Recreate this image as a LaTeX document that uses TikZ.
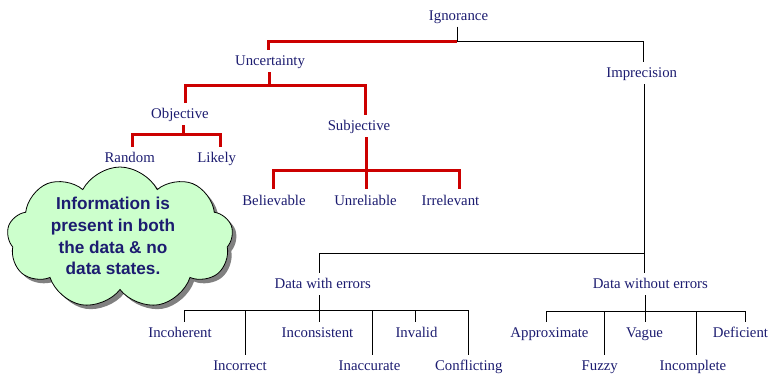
\documentclass[tikz,border=0pt]{standalone}
\usepackage{fontspec}
\setmainfont{Liberation Serif}
\newfontfamily\cloudfont{Liberation Sans}
\usetikzlibrary{shapes.symbols,shadows}
\definecolor{navytext}{RGB}{28,28,112}
\definecolor{linkred}{RGB}{204,0,0}
\definecolor{cloudgreen}{RGB}{204,255,204}
\begin{document}
\begin{tikzpicture}[x=1pt,y=-1pt,
  lbl/.style={text=navytext, font=\fontsize{14.8}{17}\selectfont,
    inner xsep=0pt, inner ysep=5.5pt, text height=10pt, text depth=1pt},
  redlink/.style={draw=linkred, line width=3pt},
  blklink/.style={draw=black, line width=1pt},
]
\useasboundingbox (0,0) rectangle (768,376);

% ---- labels ----
\node[lbl] (ign) at (458.5,15.5)  {Ignorance};
\node[lbl] (unc) at (270,61.2)    {Uncertainty};
\node[lbl] (imp) at (641.7,73.2)  {Imprecision};
\node[lbl] (obj) at (180,113.8)   {Objective};
\node[lbl] (sub) at (359,126.2)   {Subjective};
\node[lbl] (rnd) at (129.7,157.8) {Random};
\node[lbl] (lik) at (216.7,157.8) {Likely};
\node[lbl] (bel) at (274,200.5)   {Believable};
\node[lbl] (unr) at (365.5,200.5) {Unreliable};
\node[lbl] (irr) at (450.5,200.5) {Irrelevant};
\node[lbl] (dwe) at (322.7,283.8) {Data with errors};
\node[lbl] (dwo) at (650.3,283.8) {Data without errors};

\node[lbl] (ich) at (180,333.2)   {Incoherent};
\node[lbl] (icr) at (240,365.8)   {Incorrect};
\node[lbl] (ics) at (317.5,333.2) {Inconsistent};
\node[lbl] (iac) at (369.5,365.8) {Inaccurate};
\node[lbl] (inv) at (416.5,333.2) {Invalid};
\node[lbl] (cfl) at (468.8,365.8) {Conflicting};

\node[lbl] (apx) at (549.5,333.2) {Approximate};
\node[lbl] (fuz) at (599.7,365.8) {Fuzzy};
\node[lbl] (vag) at (644.5,333.2) {Vague};
\node[lbl] (icp) at (693,365.8)   {Incomplete};
\node[lbl] (dfc) at (740.5,333.2) {Deficient};

% ---- branch junctions ----
\coordinate (ignJ) at ([shift={(-1.5,14.5)}]ign.south);
\coordinate (uncJ) at ([shift={(-0.7,12.8)}]unc.south);
\coordinate (objJ) at ([shift={(3.3,9.2)}]obj.south);
\coordinate (subJ) at ([shift={(7,32.8)}]sub.south);
\coordinate (impJ) at ([shift={(2.3,169.1)}]imp.south);
\coordinate (dweJ) at ([shift={(-3.4,15.9)}]dwe.south);
\coordinate (dwoJ) at ([shift={(-5,16.9)}]dwo.south);

% ---- Ignorance ----
\draw[blklink] ([xshift=-1.5pt]ign.south) -- (ignJ) -| ([xshift=1.3pt]imp.north);
\draw[redlink] (ignJ) -| ([xshift=-1.7pt]unc.north);

% ---- Uncertainty ----
\draw[redlink] ([xshift=-0.7pt]unc.south) -- (uncJ);
\draw[redlink] (uncJ) -| ([xshift=5.3pt]obj.north);
\draw[redlink] (uncJ) -| ([xshift=6.7pt]sub.north);

% ---- Objective ----
\draw[redlink] ([xshift=3.3pt]obj.south) -- (objJ);
\draw[redlink] (objJ) -| ([xshift=2.6pt]rnd.north);
\draw[redlink] (objJ) -| ([xshift=3.6pt]lik.north);

% ---- Subjective ----
\draw[redlink] ([xshift=7pt]sub.south) -- ([xshift=0.5pt]unr.north);
\draw[redlink] (subJ) -| ([xshift=-0.7pt]bel.north);
\draw[redlink] (subJ) -| ([xshift=8.8pt]irr.north);

% ---- Imprecision ----
\draw[blklink] ([xshift=2.3pt]imp.south) -- ([xshift=-6.3pt]dwo.north);
\draw[blklink] (impJ) -| ([xshift=-3.4pt]dwe.north);

% ---- Data with errors ----
\draw[blklink] ([xshift=-3.4pt]dwe.south) -- ([xshift=1.8pt]ics.north);
\draw[blklink] (dweJ) -| ([xshift=4.3pt]ich.north);
\draw[blklink] (dweJ) -| ([xshift=5pt]icr.north);
\draw[blklink] (dweJ) -| ([xshift=3.2pt]iac.north);
\draw[blklink] (dweJ) -| ([xshift=-1.2pt]inv.north);
\draw[blklink] (dweJ) -| (cfl.north);

% ---- Data without errors ----
\draw[blklink] ([xshift=-5pt]dwo.south) -- ([xshift=0.8pt]vag.north);
\draw[blklink] (dwoJ) -| ([xshift=-2.8pt]apx.north);
\draw[blklink] (dwoJ) -| ([xshift=4.6pt]fuz.north);
\draw[blklink] (dwoJ) -| ([xshift=3.7pt]icp.north);
\draw[blklink] (dwoJ) -| ([xshift=5.2pt]dfc.north);

% ---- callout cloud ----
\node[cloud, cloud puffs=9, cloud puff arc=125, cloud ignores aspect,
  minimum width=226pt, minimum height=142pt, inner sep=0pt,
  draw=black, line width=0.8pt, fill=cloudgreen,
  drop shadow={shadow xshift=4pt, shadow yshift=-4pt, fill=black!50, opacity=1}]
  (cld) at (120,238) {};
\node[align=center, text=navytext, inner sep=0pt,
  font=\cloudfont\bfseries\fontsize{17.2}{21.7}\selectfont]
  (msg) at (113,236) {Information is\\present in both\\the data \& no\\data states.};
\end{tikzpicture}
\end{document}
